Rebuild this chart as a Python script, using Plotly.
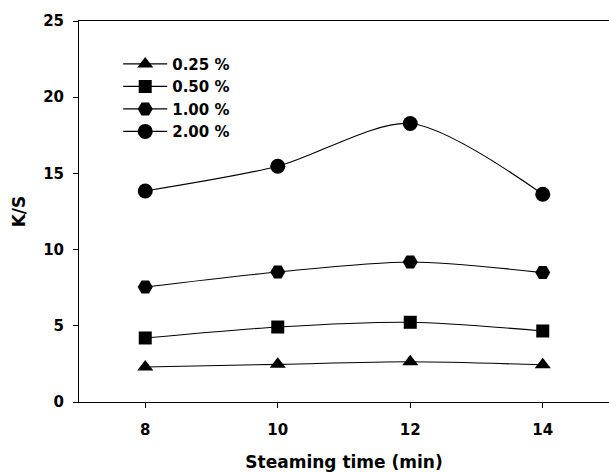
import plotly.graph_objects as go

times = [8, 10, 12, 14]
series_names = ["0.25 %", "0.50 %", "1.00 %", "2.00 %"]
ks_025 = [2.3, 2.47, 2.64, 2.44]
ks_050 = [4.2, 4.92, 5.23, 4.66]
ks_100 = [7.55, 8.53, 9.19, 8.49]
ks_200 = [13.85, 15.47, 18.27, 13.63]
x_tick_labels = ["8", "10", "12", "14"]
y_ticks = [0, 5, 10, 15, 20, 25]
symbols = ["triangle-up", "square", "hexagon2", "circle"]
sizes = [14, 13, 15, 15]

FONT = "DejaVu Sans, Verdana, sans-serif"

fig = go.Figure()
for name, vals, sym, sz in zip(series_names, [ks_025, ks_050, ks_100, ks_200], symbols, sizes):
    fig.add_trace(go.Scatter(
        x=times, y=vals, name=name, mode="lines+markers",
        line=dict(color="black", width=1.1, shape="spline", smoothing=0.8),
        marker=dict(symbol=sym, size=sz, color="black"),
    ))

fig.update_layout(
    width=609, height=472,
    margin=dict(l=79, r=0, t=21, b=70),
    paper_bgcolor="white", plot_bgcolor="white",
    font=dict(family=FONT, color="black", size=15),
    showlegend=True,
    legend=dict(
        x=0.074, y=0.93, xanchor="left", yanchor="top",
        bgcolor="rgba(0,0,0,0)", borderwidth=0,
        font=dict(family=FONT, size=15, weight="bold"),
        itemwidth=44, tracegroupgap=0,
    ),
)
fig.update_xaxes(
    range=[7, 15], tickvals=times, ticktext=x_tick_labels,
    showline=True, linecolor="black", linewidth=1, mirror=True,
    ticks="outside", ticklen=5, tickcolor="black",
    showgrid=False, zeroline=False,
    tickfont=dict(family=FONT, size=15, weight="bold"),
    ticklabelstandoff=9,
    title=dict(text="Steaming time (min)", font=dict(family=FONT, size=17, weight="bold"), standoff=18),
)
fig.update_yaxes(
    range=[0, 25], tickvals=y_ticks,
    showline=True, linecolor="black", linewidth=1, mirror=True,
    ticks="outside", ticklen=5, tickcolor="black",
    showgrid=False, zeroline=False,
    tickfont=dict(family=FONT, size=15, weight="bold"),
    ticklabelstandoff=6,
    title=dict(text="K/S", font=dict(family=FONT, size=17, weight="bold"), standoff=13),
)

fig.write_html("out.html")
